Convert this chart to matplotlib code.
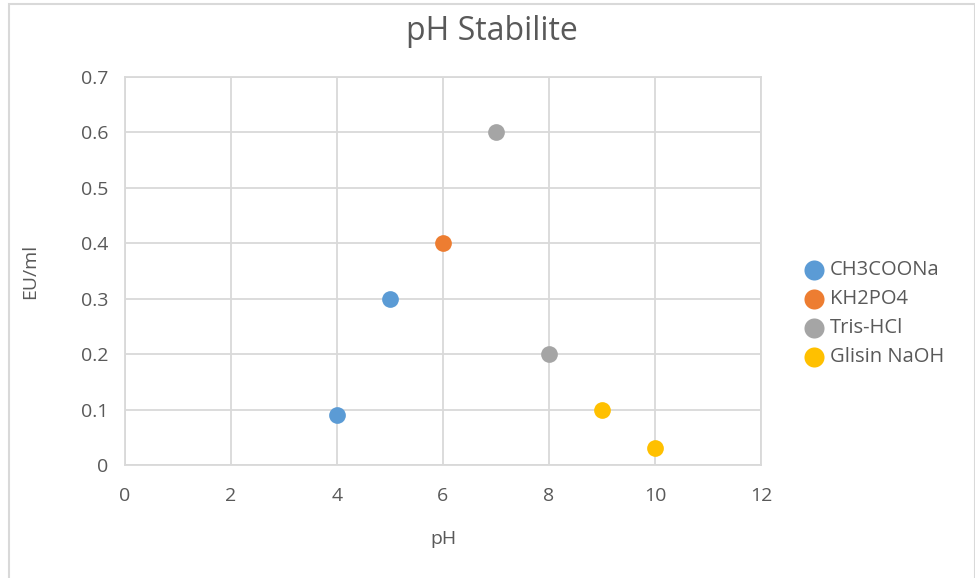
import matplotlib.pyplot as plt
from matplotlib.patches import Rectangle

plt.rcParams['font.family'] = ['Open Sans', 'DejaVu Sans']

# pH stability per buffer system
series = ['CH3COONa', 'KH2PO4', 'Tris-HCl', 'Glisin NaOH']
ph_values = [[4, 5], [6], [7, 8], [9, 10]]
activity = [[0.09, 0.3], [0.4], [0.6, 0.2], [0.1, 0.03]]
colors = ['#5B9BD5', '#ED7D31', '#A5A5A5', '#FFC000']

TEXT = '#595959'
GRID = '#D9D9D9'

fig = plt.figure(figsize=(9.75, 5.78), dpi=100)
ax = fig.add_axes([0.1282, 0.1955, 0.6523, 0.6713])

for name, xs, ys, c in zip(series, ph_values, activity, colors):
    ax.scatter(xs, ys, s=145, color=c, label=name, zorder=3, linewidths=0)

ax.set_xlim(0, 12)
ax.set_ylim(0, 0.7)
ax.set_xticks(range(0, 13, 2))
ax.set_yticks([i / 10 for i in range(8)])
ax.set_yticklabels(['0'] + [f'{i / 10:.1f}' for i in range(1, 8)])
ax.grid(True, color=GRID, linewidth=1.3)
ax.set_axisbelow(True)
for s in ax.spines.values():
    s.set_color(GRID)
    s.set_linewidth(1.3)
ax.tick_params(length=0, colors=TEXT, labelsize=14)
ax.tick_params(axis='x', pad=16)
ax.tick_params(axis='y', pad=12)

fig.text(492 / 975, 1 - 31 / 578, 'pH Stabilite', fontsize=23, color=TEXT,
         ha='center', va='center')
ax.set_xlabel('pH', fontsize=14, color=TEXT, labelpad=18)
ax.set_ylabel('EU/ml', fontsize=14, color=TEXT, labelpad=30)

ax.legend(loc='center left', bbox_to_anchor=(1.055, 0.39), frameon=False,
          fontsize=14.5, labelcolor=TEXT, handlelength=1.0, handletextpad=0.3,
          labelspacing=0.45, markerscale=1.2, borderaxespad=0)

# outer chart frame
fig.add_artist(Rectangle((9 / 975, -0.01), 966 / 975, 1 - 4 / 578 + 0.01,
                         transform=fig.transFigure, fill=False,
                         edgecolor=GRID, linewidth=1.5))

fig.savefig('out.png', dpi=100, facecolor='white')
